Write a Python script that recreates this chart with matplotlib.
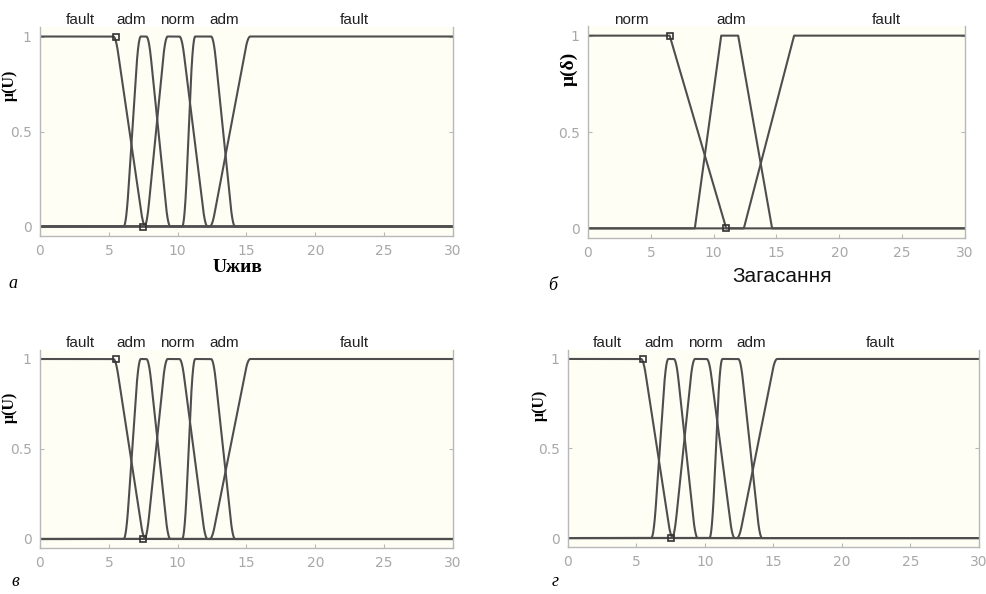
import numpy as np
import matplotlib
matplotlib.use("Agg")
import matplotlib.pyplot as plt

# membership function parameters (trapezoids a, b, c, d)
u_names = ["fault", "adm", "norm", "adm", "fault"]
u_params = [
    [0, 0, 5.5, 7.5],
    [6.25, 7.15, 7.9, 9.3],
    [7.75, 9.1, 10.3, 12.0],
    [10.5, 11.1, 12.6, 14.0],
    [12.5, 15.1, 30, 30],
]
u_label_x = [2.9, 6.66, 10.0, 13.4, 22.8]
u_markers_x = [5.5, 7.5]
u_markers_y = [1, 0]

d_names = ["norm", "adm", "fault"]
d_params = [
    [0, 0, 6.5, 11.0],
    [8.5, 10.6, 11.95, 14.65],
    [12.4, 16.4, 30, 30],
]
d_label_x = [3.45, 11.4, 23.7]
d_markers_x = [6.5, 11.0]
d_markers_y = [1, 0]

x = np.linspace(0, 30, 3001)

W, H = 987, 594
fig = plt.figure(figsize=(W / 100, H / 100), dpi=100)

BG = "#fffef4"
LINE = "#4e4e4e"
GRAY = "#b8b8b8"


def trap(x, p, smooth=0):
    a, b, c, d = p
    xs = [a - 1e-9 if a == b else a, b, c, d + 1e-9 if c == d else d]
    ys = [0 if a != b else 1, 1, 1, 0 if c != d else 1]
    y = np.interp(x, xs, ys)
    if smooth:
        # soften the corners a little, like the original plot
        n = int(smooth / (x[1] - x[0]))
        k = np.ones(n) / n
        y = np.convolve(np.pad(y, n, mode="edge"), k, mode="same")[n:-n]
    return y


def add_ax(left, right, top, bottom):
    return fig.add_axes([left / W, 1 - bottom / H, (right - left) / W, (bottom - top) / H])


def draw(ax, params, names, label_x, mx, my, label_y, smooth):
    ax.set_facecolor(BG)
    for p in params:
        ax.plot(x, trap(x, p, smooth), color=LINE, lw=1.5, solid_capstyle="butt")
    ax.plot(mx, my, ls="none", marker="s", ms=5, mfc="none", mec="#333333", mew=1.2)
    for n, lx in zip(names, label_x):
        ax.text(lx, label_y, n, ha="center", va="center", fontsize=11,
                family="Liberation Sans", color="#222222")
    ax.set_xlim(0, 30)
    ax.set_ylim(-0.05, 1.05)
    ax.set_xticks([0, 5, 10, 15, 20, 25, 30])
    ax.set_yticks([0, 0.5, 1])
    ax.set_yticklabels(["0", "0.5", "1"])
    ax.tick_params(direction="in", length=3, color=GRAY, labelcolor="#a8a8a8",
                   labelsize=10, right=True, top=False, pad=6)
    for lbl in ax.get_xticklabels() + ax.get_yticklabels():
        lbl.set_family("Liberation Sans Narrow")
    for s in ["left", "bottom", "right"]:
        ax.spines[s].set_color(GRAY)
        ax.spines[s].set_linewidth(1.0)
    ax.spines["top"].set_visible(False)


ax_a = add_ax(40, 453, 27, 236)
draw(ax_a, u_params, u_names, u_label_x, u_markers_x, u_markers_y, 1.085, 0.35)
ax_a.set_ylabel("μ(U)", family="Liberation Serif", fontweight="bold", fontsize=11.5)
ax_a.yaxis.set_label_coords(-0.053, 0.72)

ax_b = add_ax(588, 965, 26, 238)
draw(ax_b, d_params, d_names, d_label_x, d_markers_x, d_markers_y, 1.08, 0)
ax_b.set_ylabel("μ(δ)", family="Liberation Serif", fontweight="bold", fontsize=14)
ax_b.yaxis.set_label_coords(-0.027, 0.8)

ax_c = add_ax(40, 453, 350, 548)
draw(ax_c, u_params, u_names, u_label_x, u_markers_x, u_markers_y, 1.09, 0.35)
ax_c.set_ylabel("μ(U)", family="Liberation Serif", fontweight="bold", fontsize=11.5)
ax_c.yaxis.set_label_coords(-0.053, 0.71)

ax_d = add_ax(568, 979, 350, 547)
draw(ax_d, u_params, u_names, u_label_x, u_markers_x, u_markers_y, 1.09, 0.35)
ax_d.set_ylabel("μ(U)", family="Liberation Serif", fontweight="bold", fontsize=11.5)
ax_d.yaxis.set_label_coords(-0.048, 0.72)

fig.text(238 / W, 1 - 268 / H, "Uжив", ha="center", va="center",
         family="Liberation Serif", fontweight="bold", fontsize=14)
fig.text(782 / W, 1 - 276 / H, "Загасання", ha="center", va="center",
         family="Liberation Sans", fontsize=15, color="#111111")

for lx, ly, t in [(13, 284, "а"), (553, 285, "б"), (15, 582, "в"), (555, 582, "г")]:
    fig.text(lx / W, 1 - ly / H, t, ha="center", va="center",
             family="Liberation Serif", style="italic", fontsize=13)

fig.savefig("out.png", dpi=100, facecolor="white")
